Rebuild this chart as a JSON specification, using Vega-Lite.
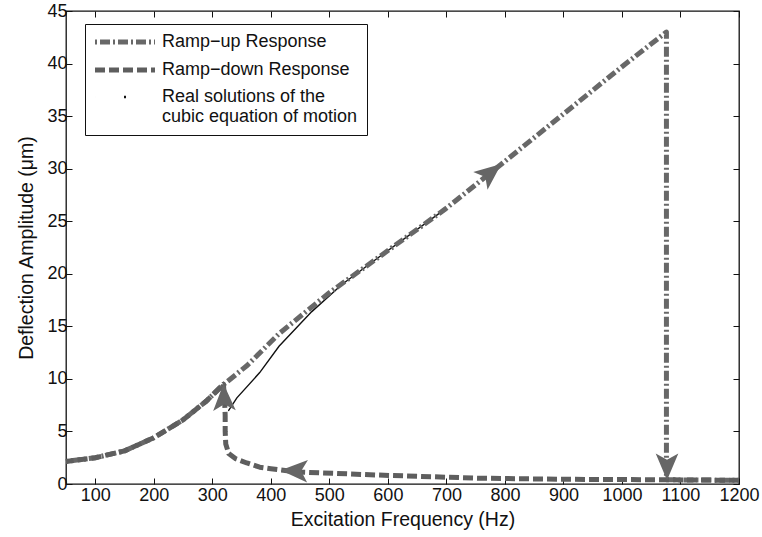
{
  "$schema": "https://vega.github.io/schema/vega-lite/v6.json",
  "width": 673,
  "height": 473,
  "autosize": {"type": "none"},
  "padding": {"left": 66, "top": 11, "right": 23, "bottom": 53},
  "background": "white",
  "config": {
    "font": "Liberation Sans",
    "view": {"stroke": "#111", "strokeWidth": 1.3},
    "axis": {"grid": false, "domain": false, "tickColor": "#111", "tickWidth": 1, "labelColor": "#111", "titleColor": "#111", "labelFont": "Liberation Sans", "titleFont": "Liberation Sans", "labelFontSize": 18, "titleFontSize": 19.5, "titleFontWeight": "normal", "labelOverlap": false, "labelFlush": false}
  },
  "datasets": {
    "curves": [
      {"series": "Real solutions of the cubic equation of motion", "i": 1, "f": 328, "a": 7.0},
      {"series": "Real solutions of the cubic equation of motion", "i": 2, "f": 342, "a": 8.2},
      {"series": "Real solutions of the cubic equation of motion", "i": 3, "f": 381, "a": 10.6},
      {"series": "Real solutions of the cubic equation of motion", "i": 4, "f": 414, "a": 13.1},
      {"series": "Real solutions of the cubic equation of motion", "i": 5, "f": 470, "a": 16.4},
      {"series": "Real solutions of the cubic equation of motion", "i": 6, "f": 522, "a": 19.0},
      {"series": "Real solutions of the cubic equation of motion", "i": 7, "f": 585, "a": 21.6},
      {"series": "Real solutions of the cubic equation of motion", "i": 8, "f": 699, "a": 26.2},

      {"series": "Ramp−up Response", "i": 1, "f": 50, "a": 2.15},
      {"series": "Ramp−up Response", "i": 2, "f": 100, "a": 2.5},
      {"series": "Ramp−up Response", "i": 3, "f": 150, "a": 3.15},
      {"series": "Ramp−up Response", "i": 4, "f": 200, "a": 4.4},
      {"series": "Ramp−up Response", "i": 5, "f": 250, "a": 6.1},
      {"series": "Ramp−up Response", "i": 6, "f": 290, "a": 7.9},
      {"series": "Ramp−up Response", "i": 7, "f": 318, "a": 9.4},
      {"series": "Ramp−up Response", "i": 8, "f": 360, "a": 11.3},
      {"series": "Ramp−up Response", "i": 9, "f": 414, "a": 14.3},
      {"series": "Ramp−up Response", "i": 10, "f": 500, "a": 18.2},
      {"series": "Ramp−up Response", "i": 11, "f": 585, "a": 21.6},
      {"series": "Ramp−up Response", "i": 12, "f": 699, "a": 26.2},
      {"series": "Ramp−up Response", "i": 13, "f": 800, "a": 30.7},
      {"series": "Ramp−up Response", "i": 14, "f": 900, "a": 35.2},
      {"series": "Ramp−up Response", "i": 15, "f": 1000, "a": 39.7},
      {"series": "Ramp−up Response", "i": 16, "f": 1076, "a": 43.0},
      {"series": "Ramp−up Response", "i": 17, "f": 1076, "a": 0.4},
      {"series": "Ramp−up Response", "i": 18, "f": 1130, "a": 0.38},
      {"series": "Ramp−up Response", "i": 19, "f": 1200, "a": 0.35},

      {"series": "Ramp−down Response", "i": 1, "f": 1200, "a": 0.35},
      {"series": "Ramp−down Response", "i": 2, "f": 1076, "a": 0.4},
      {"series": "Ramp−down Response", "i": 3, "f": 900, "a": 0.45},
      {"series": "Ramp−down Response", "i": 4, "f": 756, "a": 0.55},
      {"series": "Ramp−down Response", "i": 5, "f": 585, "a": 0.85},
      {"series": "Ramp−down Response", "i": 6, "f": 443, "a": 1.15},
      {"series": "Ramp−down Response", "i": 7, "f": 400, "a": 1.45},
      {"series": "Ramp−down Response", "i": 8, "f": 381, "a": 1.6},
      {"series": "Ramp−down Response", "i": 9, "f": 359, "a": 2.0},
      {"series": "Ramp−down Response", "i": 10, "f": 340, "a": 2.4},
      {"series": "Ramp−down Response", "i": 11, "f": 328, "a": 2.9},
      {"series": "Ramp−down Response", "i": 12, "f": 323, "a": 3.8},
      {"series": "Ramp−down Response", "i": 13, "f": 322, "a": 5.0},
      {"series": "Ramp−down Response", "i": 14, "f": 322, "a": 6.5},
      {"series": "Ramp−down Response", "i": 15, "f": 321, "a": 8.0},
      {"series": "Ramp−down Response", "i": 16, "f": 319, "a": 9.5},
      {"series": "Ramp−down Response", "i": 17, "f": 290, "a": 7.9},
      {"series": "Ramp−down Response", "i": 18, "f": 250, "a": 6.1},
      {"series": "Ramp−down Response", "i": 19, "f": 200, "a": 4.4},
      {"series": "Ramp−down Response", "i": 20, "f": 150, "a": 3.15},
      {"series": "Ramp−down Response", "i": 21, "f": 100, "a": 2.5},
      {"series": "Ramp−down Response", "i": 22, "f": 50, "a": 2.15}
    ],
    "arrows": [
      {"dir": "upright", "f": 775, "a": 29.6},
      {"dir": "up", "f": 320, "a": 8.2},
      {"dir": "down", "f": 1077, "a": 1.7},
      {"dir": "left", "f": 441, "a": 1.25}
    ]
  },
  "resolve": {"axis": {"x": "independent", "y": "independent"}},
  "layer": [
    {
      "data": {"name": "curves"},
      "transform": [{"filter": "datum.series === 'Real solutions of the cubic equation of motion'"}],
      "mark": {"type": "line", "strokeWidth": 1.4, "strokeCap": "round"},
      "encoding": {
        "x": {"field": "f", "type": "quantitative", "scale": {"domain": [50, 1200], "nice": false, "zero": false},
              "axis": {"orient": "top", "labels": false, "title": null, "values": [100,200,300,400,500,600,700,800,900,1000,1100,1200], "tickSize": -6}},
        "y": {"field": "a", "type": "quantitative", "scale": {"domain": [0, 45], "nice": false},
              "axis": {"orient": "right", "labels": false, "title": null, "values": [0,5,10,15,20,25,30,35,40,45], "tickSize": -6}},
        "order": {"field": "i", "type": "quantitative"},
        "color": {"field": "series", "type": "nominal",
          "scale": {"domain": ["Ramp−up Response", "Ramp−down Response", "Real solutions of the cubic equation of motion"], "range": ["#686868", "#5e5e5e", "#111111"]},
          "legend": {
            "orient": "none", "legendX": 19, "legendY": 13, "title": null,
            "symbolType": "stroke", "symbolSize": 3600, "symbolStrokeWidth": 5, "symbolOffset": 22,
            "labelFont": "Liberation Sans", "labelFontSize": 18, "labelColor": "#111", "labelOffset": 28, "labelLimit": 0,
            "rowPadding": 8, "padding": 9, "strokeColor": "#111", "fillColor": "white",
            "labelExpr": "datum.label === 'Real solutions of the cubic equation of motion' ? ['Real solutions of the', 'cubic equation of motion'] : datum.label",
            "encode": {"symbols": {"update": {
              "strokeWidth": {"signal": "datum.value === 'Real solutions of the cubic equation of motion' ? 2.5 : 5"}
            }}}
          }}
      }
    },
    {
      "data": {"name": "curves"},
      "transform": [{"filter": "datum.series !== 'Real solutions of the cubic equation of motion'"}],
      "mark": {"type": "line", "strokeWidth": 5, "strokeJoin": "round"},
      "encoding": {
        "x": {"field": "f", "type": "quantitative",
              "axis": {"orient": "bottom", "title": "Excitation Frequency (Hz)", "format": "d", "values": [100,200,300,400,500,600,700,800,900,1000,1100,1200], "tickSize": -6, "labelPadding": 8, "titlePadding": 6}},
        "y": {"field": "a", "type": "quantitative",
              "axis": {"orient": "left", "title": "Deflection Amplitude (μm)", "values": [0,5,10,15,20,25,30,35,40,45], "tickSize": -6, "labelPadding": 5, "titlePadding": 10}},
        "order": {"field": "i", "type": "quantitative"},
        "color": {"field": "series", "type": "nominal"},
        "strokeDash": {"field": "series", "type": "nominal",
          "scale": {"domain": ["Ramp−up Response", "Ramp−down Response", "Real solutions of the cubic equation of motion"], "range": [[2, 3, 10, 3], [10, 4], [0.01, 29, 2, 100]]}}
      }
    },
    {
      "data": {"name": "arrows"},
      "transform": [{"filter": "datum.dir === 'upright'"}],
      "mark": {"type": "point", "filled": true, "color": "#666", "opacity": 1, "size": 800, "angle": 51, "shape": "M0,-1L0.8,0.9L0,0.45L-0.8,0.9Z"},
      "encoding": {"x": {"field": "f", "type": "quantitative", "axis": null}, "y": {"field": "a", "type": "quantitative", "axis": null}}
    },
    {
      "data": {"name": "arrows"},
      "transform": [{"filter": "datum.dir === 'up'"}],
      "mark": {"type": "point", "filled": true, "color": "#666", "opacity": 1, "size": 800, "angle": -2, "shape": "M0,-1L0.8,0.9L0,0.45L-0.8,0.9Z"},
      "encoding": {"x": {"field": "f", "type": "quantitative", "axis": null}, "y": {"field": "a", "type": "quantitative", "axis": null}}
    },
    {
      "data": {"name": "arrows"},
      "transform": [{"filter": "datum.dir === 'down'"}],
      "mark": {"type": "point", "filled": true, "color": "#666", "opacity": 1, "size": 800, "angle": 180, "shape": "M0,-1L0.8,0.9L0,0.45L-0.8,0.9Z"},
      "encoding": {"x": {"field": "f", "type": "quantitative", "axis": null}, "y": {"field": "a", "type": "quantitative", "axis": null}}
    },
    {
      "data": {"name": "arrows"},
      "transform": [{"filter": "datum.dir === 'left'"}],
      "mark": {"type": "point", "filled": true, "color": "#666", "opacity": 1, "size": 800, "angle": 272, "shape": "M0,-1L0.8,0.9L0,0.45L-0.8,0.9Z"},
      "encoding": {"x": {"field": "f", "type": "quantitative", "axis": null}, "y": {"field": "a", "type": "quantitative", "axis": null}}
    }
  ]
}
